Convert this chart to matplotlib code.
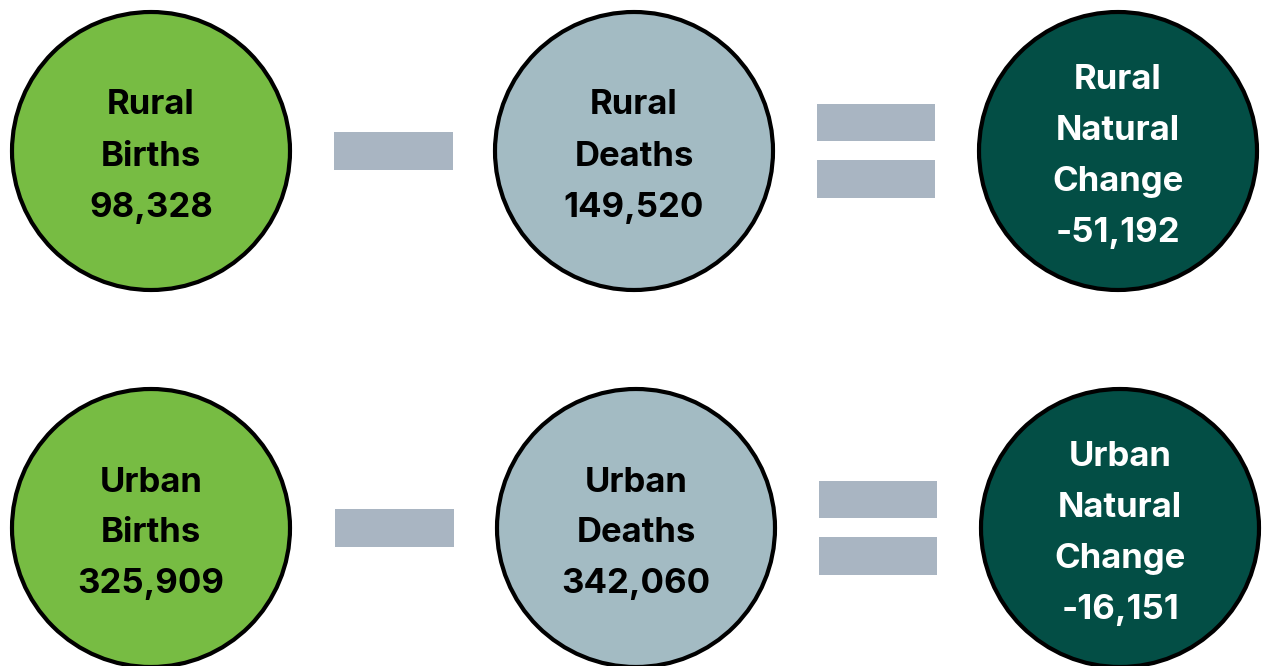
import matplotlib.pyplot as plt
from matplotlib.patches import Circle, Rectangle

# data
areas = ["Rural", "Urban"]
births = [98328, 325909]
deaths = [149520, 342060]
natural_change = [-51192, -16151]

green = "#77bc43"
grey_blue = "#a3bbc3"
dark = "#034e45"
bar_col = "#a9b5c2"

plt.rcParams['font.family'] = ['Inter', 'DejaVu Sans']

fig = plt.figure(figsize=(12.63, 6.66), dpi=100)
ax = fig.add_axes([0, 0, 1, 1])
ax.set_xlim(0, 1263)
ax.set_ylim(666, 0)
ax.set_aspect('equal')
ax.axis('off')

# layout (pixels)
row_y = [151, 528]
col_x = [[151, 634, 1118], [151, 636, 1120]]
r = 139
fs = 25
line_h = 51

def bubble(x, y, color, lines, tcolor):
    ax.add_patch(Circle((x, y), r, facecolor=color, edgecolor='black', lw=3))
    n = len(lines)
    for i, t in enumerate(lines):
        ty = y + 2 + (i - (n - 1) / 2) * line_h
        ax.text(x, ty, t, ha='center', va='center_baseline', fontsize=fs,
                fontweight='bold', color=tcolor)

for i, area in enumerate(areas):
    y = row_y[i]
    xs = col_x[i]
    bubble(xs[0], y, green, [area, "Births", f"{births[i]:,}"], 'black')
    bubble(xs[1], y, grey_blue, [area, "Deaths", f"{deaths[i]:,}"], 'black')
    bubble(xs[2], y, dark, [area, "Natural", "Change", f"{natural_change[i]:,}"], 'white')
    # minus sign
    mx = (xs[0] + xs[1]) / 2
    ax.add_patch(Rectangle((mx - 59, y - 19), 119, 38, facecolor=bar_col, edgecolor='none'))
    # equals sign
    ex = (xs[1] + xs[2]) / 2
    ax.add_patch(Rectangle((ex - 59, y - 47), 118, 37, facecolor=bar_col, edgecolor='none'))
    ax.add_patch(Rectangle((ex - 59, y + 9), 118, 38, facecolor=bar_col, edgecolor='none'))

fig.savefig("out.png", dpi=100, facecolor='white')
